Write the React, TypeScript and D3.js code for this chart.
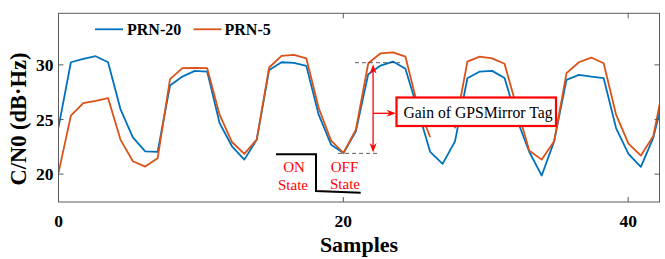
import React from "react";
import * as d3 from "d3";

const SAMPLE_STEP = 0.87;
const seriesNames = ["PRN-20", "PRN-5"];
const prn20 = [24.28, 30.24, 30.55, 30.79, 30.24, 25.96, 23.37, 22.09, 22.03, 28.11, 28.93, 29.45, 29.39, 24.68, 22.55, 21.33, 23.16, 29.54, 30.24, 30.18, 29.91, 25.44, 22.7, 21.94, 23.92, 29.15, 29.94, 30.3, 29.64, 25.9, 22.03, 20.94, 23.0, 28.78, 29.39, 29.45, 28.8, 25.0, 22.03, 19.87, 23.0, 28.63, 29.09, 28.93, 28.78, 24.22, 21.85, 20.67, 23.31, 27.9];
const prn5: (number | null)[] = [20.12, 25.35, 26.5, 26.71, 26.96, 23.16, 21.18, 20.69, 21.45, 28.69, 29.7, 29.73, 29.7, 25.44, 22.94, 21.85, 23.16, 29.76, 30.82, 30.91, 30.6, 26.05, 23.07, 21.94, 24.07, 30.15, 31.06, 31.15, 30.76, 26.2, 23.4, null, 24.2, 30.3, 30.76, 30.6, 30.1, 26.05, 22.15, 21.33, 23.0, 29.24, 30.24, 30.67, 30.15, 25.44, 22.79, 21.7, 23.46, 29.1];
const xTicks = [0, 20, 40];
const yTicks = [20, 25, 30];
const colors = ["#0072BD", "#D95319"];

const W = 665, H = 259;
const L = 58.5, R = 659.5, T = 13.3, B = 202;
const FONT = "'Liberation Serif', 'Times New Roman', serif";
const AX = "#5a5a5a";

export default function App() {
  const x = d3.scaleLinear().domain([0, 42.2]).range([L, R]);
  const y = d3.scaleLinear().domain([17.45, 34.72]).range([B, T]);
  const line = d3
    .line<number | null>()
    .defined((d) => d !== null)
    .x((_, i) => x(i * SAMPLE_STEP))
    .y((d) => y(d as number));

  const series = [prn20, prn5];
  const arrowX = x(22.09);
  const topY = y(30.2);
  const botY = y(21.9);

  return (
    <svg width={W} height={H} style={{ position: "absolute", left: 0, top: 0, background: "#fff" }} fontFamily={FONT}>
      <defs>
        <clipPath id="plot">
          <rect x={L} y={T} width={R - L} height={B - T} />
        </clipPath>
      </defs>
      <rect x={0} y={0} width={W} height={H} fill="#fff" />
      <g clipPath="url(#plot)">
        {series.map((s, k) => (
          <path key={k} d={line(s) || ""} fill="none" stroke={colors[k]} strokeWidth={1.8} strokeLinejoin="round" />
        ))}
      </g>
      {/* axes box */}
      <rect x={L} y={T} width={R - L} height={B - T} fill="none" stroke={AX} strokeWidth={1} />
      {xTicks.map((t) => (
        <g key={"x" + t}>
          <line x1={x(t)} x2={x(t)} y1={B} y2={B - 5} stroke={AX} />
          <line x1={x(t)} x2={x(t)} y1={T} y2={T + 5} stroke={AX} />
          <text x={x(t)} y={226.5} textAnchor="middle" fontSize={17.5} fontWeight="bold" fill="#000">{t}</text>
        </g>
      ))}
      {yTicks.map((t) => (
        <g key={"y" + t}>
          <line x1={L} x2={L + 5} y1={y(t)} y2={y(t)} stroke={AX} />
          <line x1={R} x2={R - 5} y1={y(t)} y2={y(t)} stroke={AX} />
          <text x={53.5} y={y(t) + 6} textAnchor="end" fontSize={17.5} fontWeight="bold" fill="#000">{t}</text>
        </g>
      ))}
      <text x={(L + R) / 2} y={251.5} textAnchor="middle" fontSize={22} fontWeight="bold" fill="#000">Samples</text>
      <text transform={`translate(26,119) rotate(-90)`} textAnchor="middle" fontSize={22.5} fontWeight="bold" fill="#000">C/N0 (dB·Hz)</text>

      {/* legend */}
      <line x1={95} x2={123} y1={29.3} y2={29.3} stroke={colors[0]} strokeWidth={1.8} />
      <text x={127} y={35} fontSize={16} fontWeight="bold" fill="#000">{seriesNames[0]}</text>
      <line x1={193.5} x2={221.5} y1={29.3} y2={29.3} stroke={colors[1]} strokeWidth={1.8} />
      <text x={224.5} y={35} fontSize={16} fontWeight="bold" fill="#000">{seriesNames[1]}</text>

      {/* dashed reference lines */}
      <line x1={x(20.82)} x2={x(23.98)} y1={topY} y2={topY} stroke="#333" strokeWidth={0.8} strokeDasharray="4,3" />
      <line x1={x(19.63)} x2={x(22.58)} y1={botY} y2={botY} stroke="#333" strokeWidth={0.8} strokeDasharray="4,3" />

      {/* vertical double arrow */}
      <line x1={arrowX} x2={arrowX} y1={topY + 6} y2={botY - 6} stroke="#ff0000" strokeWidth={1.3} />
      <path d={`M${arrowX},${topY + 1.5} L${arrowX - 3.5},${topY + 11} L${arrowX},${topY + 8} L${arrowX + 3.5},${topY + 11} Z`} fill="#ff0000" />
      <path d={`M${arrowX},${botY - 1} L${arrowX - 3.5},${botY - 10.5} L${arrowX},${botY - 7.5} L${arrowX + 3.5},${botY - 10.5} Z`} fill="#ff0000" />
      {/* horizontal arrow */}
      <line x1={arrowX} x2={390} y1={113.3} y2={113.3} stroke="#ff0000" strokeWidth={1.3} />
      <path d={`M396,113.3 L386.5,109.8 L389.5,113.3 L386.5,116.8 Z`} fill="#ff0000" />

      {/* annotation box */}
      <rect x={396.5} y={97.5} width={159.5} height={28.5} fill="#fff" stroke="#ff0000" strokeWidth={2.2} />
      <text x={403.5} y={118.3} fontSize={17} textLength={149} lengthAdjust="spacingAndGlyphs" fill="#000">Gain of GPSMirror Tag</text>

      {/* state step */}
      <path d="M276,154.3 L316,154.3 L316,191 L360.7,192.7" fill="none" stroke="#000" strokeWidth={2} />
      <text x={294} y={171.5} textAnchor="middle" fontSize={15} fill="#ff0000">ON</text>
      <text x={293} y={189.8} textAnchor="middle" fontSize={15} fill="#ff0000">State</text>
      <text x={344.5} y={171.5} textAnchor="middle" fontSize={15} fill="#ff0000">OFF</text>
      <text x={345} y={189.3} textAnchor="middle" fontSize={15} fill="#ff0000">State</text>
    </svg>
  );
}
